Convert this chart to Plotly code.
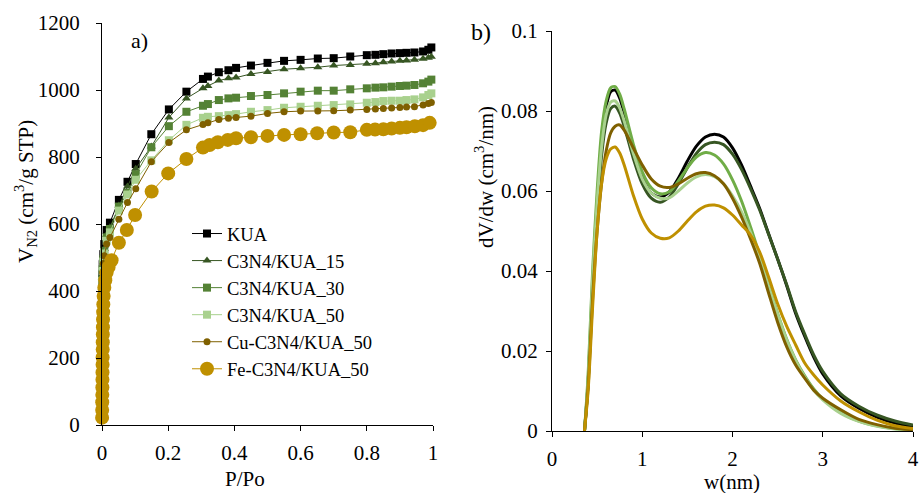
import plotly.graph_objects as go

# ---------------- Panel a) N2 isotherms ----------------
SERIES = ["KUA", "C3N4/KUA_15", "C3N4/KUA_30", "C3N4/KUA_50", "Cu-C3N4/KUA_50", "Fe-C3N4/KUA_50"]

P_GRID = [0.0005, 0.001, 0.002, 0.004, 0.007, 0.014, 0.024, 0.051, 0.077, 0.102, 0.149, 0.202,
          0.255, 0.305, 0.32, 0.353, 0.382, 0.405, 0.45, 0.50, 0.55, 0.60, 0.652, 0.70, 0.75,
          0.80, 0.826, 0.85, 0.875, 0.90, 0.92, 0.944, 0.97, 0.986, 0.995]

V_KUA = [420, 450, 480, 510, 540, 582, 604, 672, 726, 779, 868, 942, 995, 1033, 1040, 1053, 1059,
         1066, 1073, 1081, 1087, 1090, 1094, 1095, 1100, 1104, 1105, 1107, 1109, 1110, 1111, 1112,
         1115, 1120, 1127]
V_15 = [410, 440, 470, 500, 525, 568, 590, 655, 712, 765, 831, 918, 975, 1005, 1012, 1028, 1035,
        1037, 1048, 1054, 1062, 1065, 1068, 1073, 1075, 1078, 1080, 1083, 1085, 1087, 1088, 1090,
        1093, 1096, 1099]
V_30 = [405, 435, 465, 495, 520, 560, 585, 652, 693, 748, 829, 892, 935, 953, 958, 970, 975, 977,
        982, 985, 990, 995, 998, 998, 1002, 1005, 1007, 1008, 1010, 1012, 1013, 1015, 1020, 1025,
        1031]
V_50 = [400, 430, 460, 488, 512, 550, 575, 640, 688, 732, 790, 850, 896, 917, 920, 922, 925, 928,
        935, 940, 947, 950, 953, 955, 957, 962, 964, 967, 968, 968, 970, 972, 978, 985, 990]
V_CU = [395, 425, 455, 482, 505, 540, 560, 614, 664, 705, 786, 843, 881, 897, 902, 912, 916, 918,
        922, 930, 935, 937, 937, 938, 940, 942, 943, 945, 946, 948, 949, 950, 955, 960, 963]

P_FE = [0.0003, 0.0005, 0.0007, 0.0009, 0.0011, 0.0013, 0.0015, 0.0017, 0.0019, 0.0021, 0.0023,
        0.0025, 0.0028, 0.0031, 0.0035, 0.004, 0.005, 0.007, 0.010, 0.014, 0.020, 0.029, 0.051,
        0.075, 0.10, 0.15, 0.20, 0.255, 0.305, 0.325, 0.35, 0.38, 0.405, 0.45, 0.50, 0.55, 0.60,
        0.65, 0.70, 0.75, 0.80, 0.825, 0.85, 0.875, 0.90, 0.92, 0.945, 0.97, 0.99]
V_FE = [22, 45, 68, 90, 112, 135, 157, 180, 202, 225, 247, 270, 292, 315, 337, 360, 385, 410, 432,
        455, 472, 492, 544, 582, 627, 697, 751, 794, 828, 836, 844, 851, 856, 859, 863, 866, 868,
        871, 873, 874, 881, 882, 883, 885, 887, 889, 892, 895, 902]

# ---------------- Panel b) pore size distribution ----------------
W = [0.36, 0.40, 0.45, 0.50, 0.55, 0.60, 0.65, 0.70, 0.75, 0.80, 0.90, 1.00, 1.10, 1.20, 1.30,
     1.40, 1.50, 1.60, 1.70, 1.80, 1.90, 2.00, 2.10, 2.20, 2.30, 2.40, 2.50, 2.60, 2.70, 2.80,
     2.90, 3.00, 3.20, 3.40, 3.60, 3.80, 4.00]

D_KUA = [0, 0.012, 0.036, 0.056, 0.072, 0.081, 0.0848, 0.0852, 0.0832, 0.0795, 0.0705, 0.0635,
         0.0595, 0.0585, 0.0598, 0.0632, 0.0675, 0.0712, 0.0735, 0.0742, 0.0735, 0.0708, 0.0665,
         0.0612, 0.0557, 0.0493, 0.0430, 0.0364, 0.0294, 0.0237, 0.0185, 0.0143, 0.0088, 0.0057,
         0.0035, 0.0020, 0.0011]
D_15 = [0, 0.012, 0.035, 0.054, 0.069, 0.077, 0.0806, 0.0812, 0.0795, 0.0762, 0.0682, 0.0618,
        0.0582, 0.0572, 0.0585, 0.0618, 0.0658, 0.0694, 0.0716, 0.0722, 0.0716, 0.0692, 0.0654,
        0.0606, 0.0553, 0.0492, 0.0430, 0.0366, 0.0298, 0.0242, 0.0190, 0.0149, 0.0093, 0.0062,
        0.0040, 0.0025, 0.0015]
D_30 = [0, 0.014, 0.040, 0.060, 0.075, 0.0825, 0.0858, 0.0861, 0.0842, 0.0805, 0.0718, 0.0648,
        0.0608, 0.0593, 0.0598, 0.0625, 0.0658, 0.0685, 0.0696, 0.0690, 0.0668, 0.0628, 0.0575,
        0.0510, 0.0440, 0.0365, 0.0294, 0.0230, 0.0178, 0.0138, 0.0105, 0.0080, 0.0046, 0.0025,
        0.0013, 0.0006, 0.0002]
D_50 = [0, 0.013, 0.038, 0.057, 0.071, 0.079, 0.0822, 0.0825, 0.0808, 0.0775, 0.0695, 0.0630,
        0.0595, 0.0582, 0.0583, 0.0600, 0.0620, 0.0635, 0.0641, 0.0636, 0.0618, 0.0588, 0.0548,
        0.0496, 0.0432, 0.0362, 0.0292, 0.0228, 0.0176, 0.0135, 0.0102, 0.0078, 0.0044, 0.0024,
        0.0012, 0.0005, 0.0002]
D_CU = [0, 0.011, 0.033, 0.050, 0.062, 0.070, 0.0745, 0.0762, 0.0765, 0.0752, 0.0708, 0.0665,
        0.0630, 0.0612, 0.0609, 0.0618, 0.0632, 0.0643, 0.0646, 0.0638, 0.0618, 0.0582, 0.0535,
        0.0480, 0.0420, 0.0345, 0.0272, 0.0211, 0.0165, 0.0132, 0.0102, 0.0082, 0.0053, 0.0029,
        0.0016, 0.0007, 0.0003]
D_FE = [0, 0.010, 0.031, 0.050, 0.062, 0.068, 0.0705, 0.0710, 0.0695, 0.0665, 0.0590, 0.0530,
        0.0495, 0.0482, 0.0483, 0.0500, 0.0525, 0.0548, 0.0562, 0.0565, 0.0558, 0.0540, 0.0515,
        0.0490, 0.0448, 0.0385, 0.0318, 0.0262, 0.0215, 0.0170, 0.0140, 0.0115, 0.0075, 0.0048,
        0.0027, 0.0013, 0.0006]

COLORS_A = ["#000000", "#375623", "#548235", "#A9D18E", "#7F6000", "#BF9000"]
COLORS_B = ["#000000", "#375623", "#70AD47", "#A9D18E", "#7F6000", "#BF9000"]
SYMBOLS = ["square", "triangle-up", "square", "square", "circle", "circle"]
SIZES = [8, 8, 8, 8, 7, 14]

FONT = "Liberation Serif, Times New Roman, serif"

fig = go.Figure()

iso_x = [P_GRID, P_GRID, P_GRID, P_GRID, P_GRID, P_FE]
iso_y = [V_KUA, V_15, V_30, V_50, V_CU, V_FE]
for name, xs, ys, c, s, sz in zip(SERIES, iso_x, iso_y, COLORS_A, SYMBOLS, SIZES):
    fig.add_trace(go.Scatter(
        x=xs, y=ys, name=name, mode="lines+markers",
        line=dict(color=c, width=1),
        marker=dict(symbol=s, size=sz, color=c),
        cliponaxis=False, xaxis="x", yaxis="y"))

psd_y = [D_KUA, D_15, D_30, D_50, D_CU, D_FE]
for name, ys, c in zip(SERIES, psd_y, COLORS_B):
    fig.add_trace(go.Scatter(
        x=W, y=ys, name=name, mode="lines", showlegend=False,
        line=dict(color=c, width=3, shape="spline", smoothing=0.8),
        xaxis="x2", yaxis="y2"))

W_PX, H_PX = 919, 493

def px_x(x):
    return x / W_PX

def px_y(y):
    return 1 - y / H_PX

axis_common = dict(
    automargin=False,
    showgrid=False, zeroline=False, showline=True, linecolor="black", linewidth=1,
    ticks="outside", ticklen=5, tickcolor="black", tickwidth=1,
    tickfont=dict(family=FONT, size=21, color="black"),
)

fig.update_layout(
    width=W_PX, height=H_PX,
    margin=dict(l=0, r=0, t=0, b=0, autoexpand=False),
    paper_bgcolor="white", plot_bgcolor="white",
    font=dict(family=FONT, size=21, color="black"),
    xaxis=dict(domain=[px_x(102), px_x(433)], range=[0, 1], dtick=0.2, anchor="y",
               ticklabelstandoff=4, **axis_common),
    yaxis=dict(domain=[px_y(425), px_y(23)], range=[0, 1200], dtick=200, anchor="x",
               ticklabelstandoff=12, **axis_common),
    xaxis2=dict(domain=[px_x(552), px_x(913)], range=[0, 4], dtick=1, anchor="y2",
                ticklabelstandoff=4, **axis_common),
    yaxis2=dict(domain=[px_y(431), px_y(31)], range=[0, 0.1], dtick=0.02, anchor="x2",
                ticklabelstandoff=4, **axis_common),
    legend=dict(x=px_x(187), y=px_y(215), xanchor="left", yanchor="top",
                bgcolor="rgba(0,0,0,0)", font=dict(family=FONT, size=18.5, color="black"),
                tracegroupgap=0, itemwidth=30),
    showlegend=True,
)

annots = [
    dict(text="a)", x=px_x(139), y=px_y(41), size=22, angle=0),
    dict(text="b)", x=px_x(481), y=px_y(32), size=24, angle=0),
    dict(text="P/Po", x=px_x(245), y=px_y(479), size=21, angle=0),
    dict(text="w(nm)", x=px_x(732), y=px_y(482), size=21, angle=0),
    dict(text="V<sub>N2</sub> (cm<sup>3</sup>/g STP)", x=px_x(25), y=px_y(192), size=21, angle=-90),
    dict(text="dV/dw (cm<sup>3</sup>/nm)", x=px_x(484), y=px_y(177), size=21, angle=-90),
]
for a in annots:
    fig.add_annotation(text=a["text"], x=a["x"], y=a["y"], xref="paper", yref="paper",
                       xanchor="center", yanchor="middle", showarrow=False, textangle=a["angle"],
                       font=dict(family=FONT, size=a["size"], color="black"))

fig.write_html("out.html")
